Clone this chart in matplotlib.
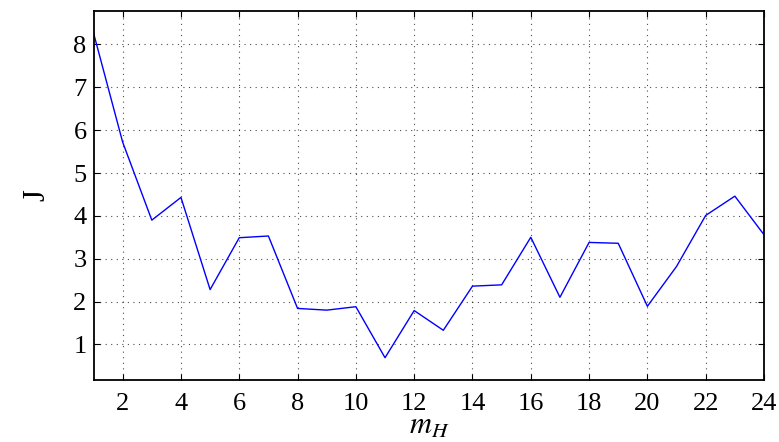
import numpy as np
import matplotlib
matplotlib.use("Agg")
import matplotlib.pyplot as plt

plt.rcParams['font.family'] = ['Liberation Serif', 'DejaVu Serif']
plt.rcParams['mathtext.fontset'] = 'stix'

m_h = list(range(1, 25))
cost = [8.27, 5.72, 3.90, 4.43, 2.28, 3.49, 3.53, 1.84, 1.80, 1.88, 0.69, 1.79,
        1.33, 2.36, 2.39, 3.50, 2.10, 3.38, 3.36, 1.89, 2.82, 4.01, 4.46, 3.56]
xticks = list(range(2, 25, 2))
yticks = list(range(1, 9))

fig = plt.figure(figsize=(7.79, 4.42), dpi=100)
ax = fig.add_axes([93.5 / 779, 1 - 380 / 442, (764 - 93.5) / 779, (380 - 11) / 442])

ax.plot(m_h, cost, color='blue', lw=1.0)

ax.set_xlim(1, 24)
ax.set_ylim(0.17, 8.78)
ax.set_xticks(xticks)
ax.set_yticks(yticks)
ax.tick_params(direction='in', top=True, right=True, length=4, width=0.8,
               labelsize=19)
ax.tick_params(axis='x', pad=9)
ax.tick_params(axis='y', pad=5)
ax.grid(True, linestyle=(0, (1, 4)), color='black', linewidth=0.8, alpha=0.7)
for s in ax.spines.values():
    s.set_linewidth(1.3)

ax.set_xlabel('$m_H$', fontsize=22, labelpad=-2)
ax.set_ylabel('J', fontsize=22, labelpad=16)

fig.savefig('out.png', dpi=100)
